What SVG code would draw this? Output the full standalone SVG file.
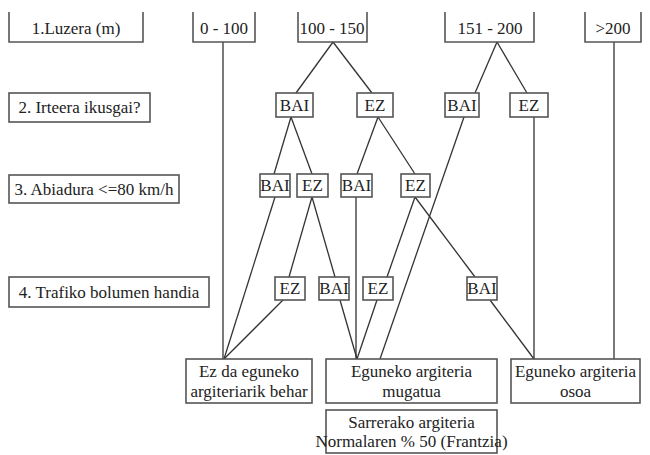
<svg xmlns="http://www.w3.org/2000/svg" width="650" height="455" viewBox="0 0 650 455">
<style>
.bx{fill:#fff;stroke:#555;stroke-width:1.6}
.tp{fill:none;stroke:#555;stroke-width:1.6}
.ln{stroke:#333;stroke-width:1.3;fill:none}
</style>
<rect width="650" height="455" fill="#fff"/>
<g id="connectors" class="ln">
<line x1="223" y1="42" x2="223" y2="359"/>
<line x1="333" y1="42" x2="296" y2="93"/>
<line x1="333" y1="42" x2="372" y2="93"/>
<line x1="497" y1="42" x2="475" y2="93"/>
<line x1="497" y1="42" x2="527" y2="93"/>
<line x1="614" y1="42" x2="614" y2="359"/>
<line x1="291" y1="117" x2="274" y2="174"/>
<line x1="291" y1="117" x2="312" y2="174"/>
<line x1="378" y1="117" x2="357" y2="174"/>
<line x1="378" y1="117" x2="415" y2="174"/>
<line x1="464" y1="117" x2="380" y2="359"/>
<line x1="534" y1="117" x2="534" y2="359"/>
<line x1="275" y1="197" x2="224" y2="359"/>
<line x1="312" y1="197" x2="289" y2="277"/>
<line x1="312" y1="197" x2="335" y2="277"/>
<line x1="356" y1="197" x2="356" y2="359"/>
<line x1="415" y1="197" x2="387" y2="277"/>
<line x1="415" y1="197" x2="475" y2="277"/>
<line x1="283" y1="300" x2="224" y2="359"/>
<line x1="340" y1="300" x2="357" y2="359"/>
<line x1="377" y1="300" x2="357" y2="359"/>
<line x1="490" y1="300" x2="534" y2="359"/>
</g>
<g font-family="Liberation Serif" font-size="17" fill="#222" text-anchor="middle">
<g id="lbl1"><path class="tp" d="M9 12V42H143V12"/><text x="76" y="34">1.Luzera (m)</text></g>
<g id="r0-100"><path class="tp" d="M193 12V42H255V12"/><text x="224" y="34">0 - 100</text></g>
<g id="r100-150"><path class="tp" d="M298 12V42H367V12"/><text x="332" y="34">100 - 150</text></g>
<g id="r151-200"><path class="tp" d="M445 12V42H534V12"/><text x="490" y="34">151 - 200</text></g>
<g id="r200"><path class="tp" d="M585 12V42H641V12"/><text x="613" y="34">&gt;200</text></g>
<g id="lbl2"><rect class="bx" x="9" y="93" width="141" height="29"/><text x="79.5" y="113">2. Irteera ikusgai?</text></g>
<g id="lbl3"><rect class="bx" x="9" y="175" width="170" height="28"/><text x="94" y="195">3. Abiadura &lt;=80 km/h</text></g>
<g id="lbl4"><rect class="bx" x="9" y="277" width="200" height="30"/><text x="109" y="298">4. Trafiko bolumen handia</text></g>
<g id="bai2a"><rect class="bx" x="276" y="93" width="37" height="24"/><text x="294.5" y="111">BAI</text></g>
<g id="ez2b"><rect class="bx" x="357" y="93" width="36" height="24"/><text x="375" y="111">EZ</text></g>
<g id="bai2c"><rect class="bx" x="445" y="93" width="34" height="24"/><text x="462" y="111">BAI</text></g>
<g id="ez2d"><rect class="bx" x="510" y="93" width="38" height="24"/><text x="529" y="111">EZ</text></g>
<g id="bai3a"><rect class="bx" x="260" y="174" width="30" height="23"/><text x="275" y="191">BAI</text></g>
<g id="ez3b"><rect class="bx" x="297" y="174" width="31" height="23"/><text x="312.5" y="191">EZ</text></g>
<g id="bai3c"><rect class="bx" x="341" y="174" width="31" height="23"/><text x="356.5" y="191">BAI</text></g>
<g id="ez3d"><rect class="bx" x="401" y="174" width="29" height="23"/><text x="415.5" y="191">EZ</text></g>
<g id="ez4a"><rect class="bx" x="275" y="277" width="30" height="23"/><text x="290" y="294">EZ</text></g>
<g id="bai4b"><rect class="bx" x="319" y="277" width="30" height="23"/><text x="334" y="294">BAI</text></g>
<g id="ez4c"><rect class="bx" x="363" y="277" width="30" height="23"/><text x="378" y="294">EZ</text></g>
<g id="bai4d"><rect class="bx" x="467" y="277" width="30" height="23"/><text x="482" y="294">BAI</text></g>
<g id="out1"><rect class="bx" x="186" y="359" width="126" height="44"/><text x="249" y="377">Ez da eguneko</text><text x="249" y="397">argiteriarik behar</text></g>
<g id="out2"><rect class="bx" x="326" y="359" width="171" height="44"/><text x="411.5" y="377">Eguneko argiteria</text><text x="411.5" y="397">mugatua</text></g>
<g id="out3"><rect class="bx" x="511" y="359" width="129" height="44"/><text x="575.5" y="377">Eguneko argiteria</text><text x="575.5" y="397">osoa</text></g>
<g id="out4"><rect class="bx" x="326" y="410" width="171" height="43"/><text x="411.5" y="428">Sarrerako argiteria</text><text x="411.5" y="447">Normalaren % 50 (Frantzia)</text></g>
</g>
</svg>
